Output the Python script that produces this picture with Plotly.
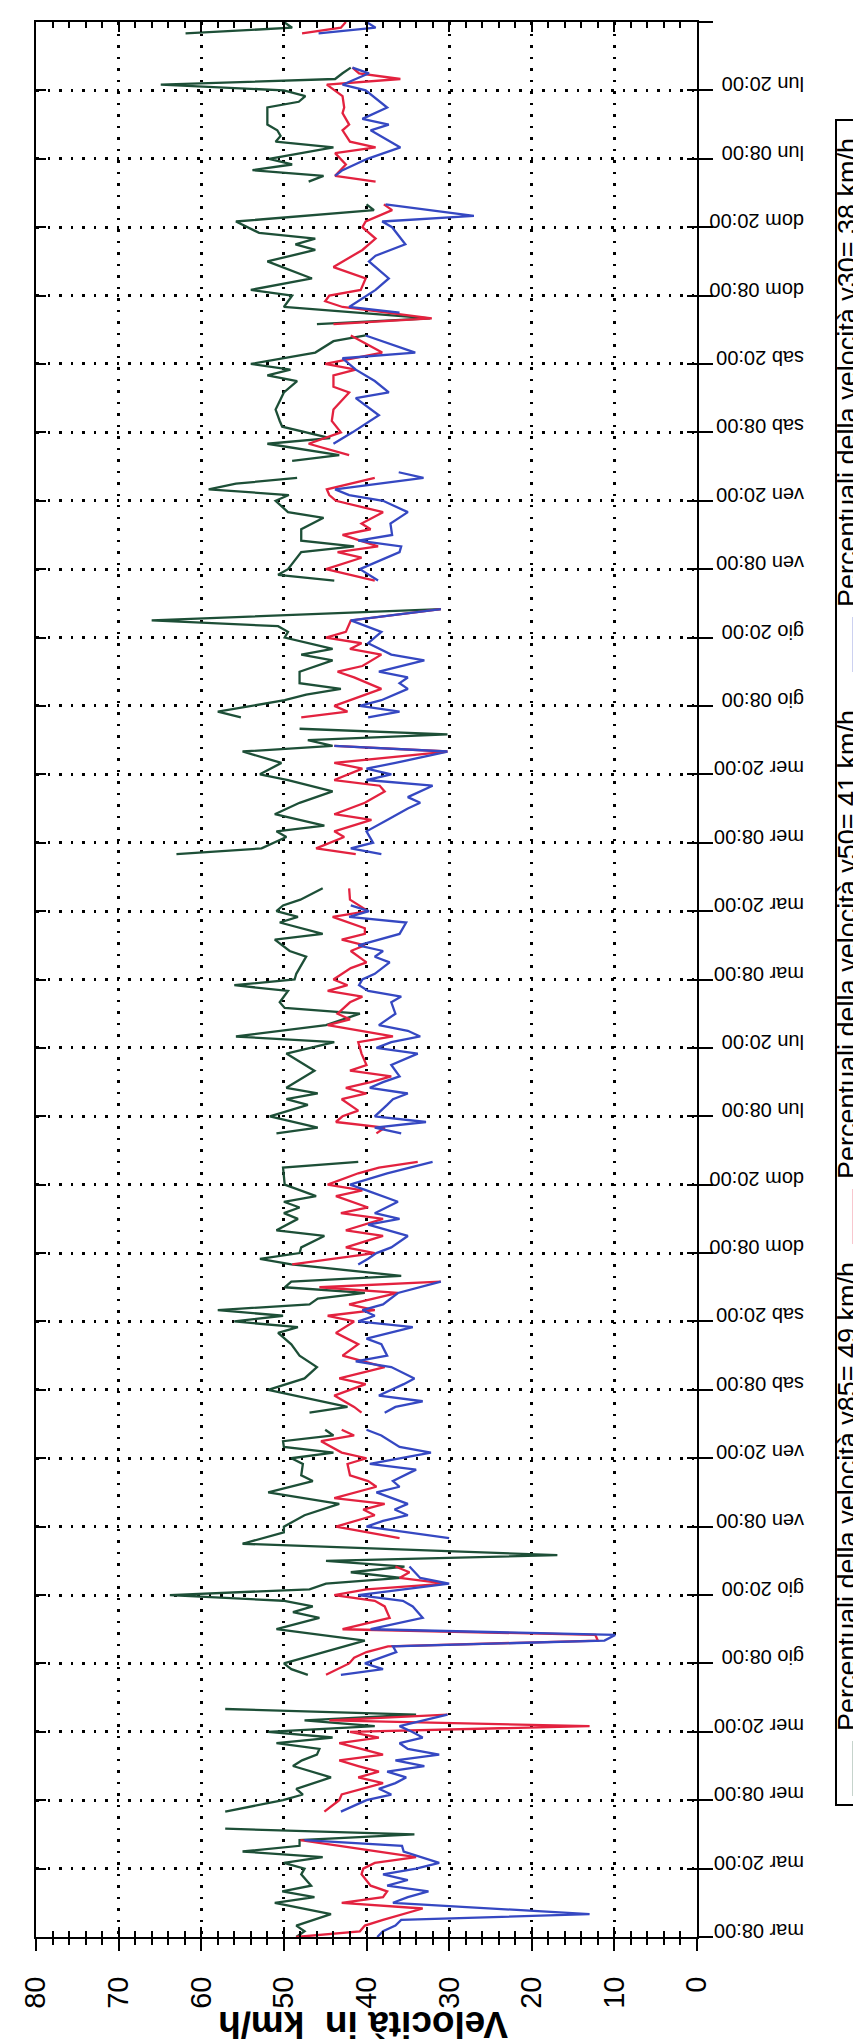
import plotly.graph_objects as go

# ---------------- data (hours from "mar 08:00", speed in km/h) ----------------
N = None
green_hours = [0,1,2,4,6,7,8,9,11,12,13,14,15,16,17,18,19,N,
               22,24,25,26,28,29,30,31,32,33,34,35,36,37,38,39,40,N,
               46,47,48,52,54,56,57,58,59,60,61,62,63,64,65,66,67,69,71,72,74,76,78,80,81,83,84,85,86,87,88,89,N,
               92,93,96,98,100,102,104,106,107,108,109,110,111,112,113,114,115,116,118,119,120,121,123,124,126,127,128,129,130,132,135,136,N,
               141,142,144,146,147,148,149,152,155,157,158,160,162,163,164,166,167,168,169,172,173,175,176,178,179,180,181,182,184,N,
               190,191,193,194,195,197,199,201,203,204,206,208,209,210,211,212,N,
               214,215,217,218,219,220,222,224,225,226,228,229,230,231,233,N,
               238,239,240,243,244,245,247,249,250,252,253,254,255,256,N,
               259,260,262,263,265,266,268,270,271,273,274,275,276,278,280,281,N,
               283,284,286,288,289,291,294,296,297,298,299,301,303,304,N,
               308,309,310,311,312,314,315,316,317,318,321,322,323,324,325,326,327,328,N,
               334,335,336]
green_vals = [48.5,47.5,48.5,44.3,51.1,46.3,50.2,46.7,47.9,47.5,50.0,45.3,55.0,48.1,48.1,34.2,57.1,N,
              57.1,50.1,47.7,48.5,44.3,46.5,48.9,47.8,46.0,45.7,50.9,44.1,51.9,39.0,47.5,34.0,57.1,N,
              47.1,49.1,50.0,40.2,50.9,45.7,48.9,46.5,50.1,63.8,46.9,44.9,35.8,41.9,35.4,44.9,16.9,55.0,50.0,50.0,47.5,43.3,51.9,46.5,47.9,47.7,49.1,44.0,50.0,50.1,44.0,45.0,N,
              46.9,42.3,51.9,47.5,46.0,48.1,49.1,50.7,48.3,56.0,50.1,58.0,46.9,45.9,40.2,49.9,49.1,35.8,49.1,52.9,48.1,47.9,45.1,50.9,48.3,50.0,48.1,50.0,46.1,49.9,50.1,41.0,N,
              50.9,45.9,51.7,47.1,49.7,45.9,49.7,46.3,49.7,43.9,55.8,44.9,40.8,49.9,50.5,49.5,56.0,48.7,48.5,47.3,49.3,51.1,45.3,50.5,48.3,50.9,50.1,48.0,45.3,N,
              63.0,52.7,49.7,50.9,45.1,51.1,48.1,44.1,49.5,52.9,50.3,55.0,44.1,47.1,30.2,48.1,N,
              55.2,58.0,49.9,47.3,43.1,48.1,48.1,44.1,47.9,44.1,49.9,49.5,50.7,66.0,31.0,N,
              43.9,50.7,49.5,47.9,41.5,47.9,47.9,45.2,49.5,51.0,49.4,59.1,55.8,48.4,N,
              49.0,43.3,52.0,44.4,50.2,50.5,51.0,50.3,50.0,48.4,52.0,49.2,54.0,46.2,44.0,40.1,N,
              46.0,32.3,50.0,49.0,54.0,46.6,52.0,46.2,48.6,46.2,53.0,55.8,39.1,40.0,N,
              47.0,45.2,53.8,49.0,51.8,44.0,51.0,50.4,50.8,52.0,52.0,48.2,47.4,50.0,64.9,43.8,42.9,41.9,N,
              61.9,49.0,50.0]

red_hours = [0,1,2,3,5,6,7,8,9,11,12,13,14,17,N,
             22,24,25,26,27,28,29,30,31,32,33,34,35,36,37,38,39,N,
             46,48,49,50,51,52,53,54,56,58,59,60,61,62,63,64,65,N,
             70,72,74,75,76,77,79,80,81,83,84,85,87,88,89,N,
             92,93,95,97,98,100,102,104,106,108,109,110,111,113,114,115,N,
             118,120,121,123,124,126,127,128,130,131,132,134,135,136,N,
             141,142,143,144,145,147,148,149,150,151,152,153,155,157,158,160,161,162,164,165,166,167,168,170,171,173,174,175,176,177,179,180,182,184,N,
             190,191,193,194,196,197,199,200,201,202,203,205,206,208,209,N,
             214,215,216,217,219,221,222,223,225,226,227,228,229,231,233,N,
             238,240,242,243,244,246,247,248,250,252,253,254,256,N,
             260,262,264,266,268,271,272,274,275,276,278,281,N,
             283,284,286,287,288,289,291,293,296,298,300,301,303,304,N,
             308,309,311,313,314,315,317,318,320,321,323,325,326,327,328,N,
             334,335,336]
red_vals = [48.5,40.8,40.2,38.0,33.2,43.0,38.0,37.5,39.5,40.6,40.4,39.0,34.0,48.0,N,
            45.1,43.3,43.0,40.5,38.0,41.0,38.5,41.0,43.3,38.0,40.5,43.3,38.5,42.0,13.0,44.5,30.2,N,
            44.9,42.1,41.5,40.0,37.4,12.0,12.3,42.9,37.2,37.8,39.0,43.9,40.0,30.4,36.0,34.8,36.5,N,
            36.0,43.7,39.0,40.4,37.8,43.9,38.8,39.8,42.0,42.3,40.0,43.0,45.5,41.5,43.0,N,
            40.6,41.5,43.9,40.1,43.3,37.8,42.9,41.0,43.7,41.5,44.7,39.0,42.1,36.2,45.7,31.0,N,
            49.0,39.0,42.5,38.0,42.5,38.0,43.1,39.8,43.7,40.5,44.7,41.0,38.5,33.8,N,
            38.8,37.8,43.7,42.9,41.0,43.0,40.0,42.5,39.5,37.0,42.0,40.0,40.6,41.0,36.8,44.7,42.0,43.5,42.0,40.5,44.7,42.3,44.0,41.9,40.0,41.9,40.2,43.0,40.2,40.2,44.1,39.8,42.0,42.1,N,
            41.3,46.1,42.7,43.9,39.4,43.9,40.2,39.0,37.8,38.4,43.9,40.5,43.9,30.2,43.9,N,
            47.9,42.3,43.9,42.0,38.2,41.5,43.5,40.5,38.2,42.0,40.6,44.9,42.5,41.9,31.0,N,
            39.0,44.9,40.6,43.5,38.6,42.9,39.5,40.6,38.0,43.7,44.5,44.8,39.0,N,
            42.1,47.0,43.1,44.2,44.0,42.1,44.0,44.0,41.3,45.0,38.1,41.9,N,
            44.0,32.1,42.9,45.0,44.5,40.7,40.1,44.0,40.5,38.9,40.5,40.1,36.9,37.9,N,
            38.9,43.8,42.5,43.8,38.9,42.0,42.9,42.1,42.9,42.7,42.9,44.8,35.9,40.9,41.7,N,
            47.8,43.1,42.5]

blue_hours = [0,1,2,3,4,6,7,8,9,10,11,12,13,14,15,16,17,N,
              22,24,25,26,27,28,29,30,31,32,33,34,35,36,37,38,39,N,
              46,47,48,50,51,52,53,54,56,58,59,60,62,63,65,N,
              70,72,73,74,75,76,78,79,80,82,83,85,86,88,89,N,
              92,93,94,95,97,98,100,101,102,104,105,107,108,109,110,111,113,115,N,
              118,119,120,121,123,125,126,127,129,130,131,132,134,136,N,
              141,142,143,144,146,147,148,149,150,151,153,155,156,157,158,159,160,162,164,165,166,167,168,169,171,172,173,174,176,178,179,180,181,N,
              190,191,192,194,196,198,199,200,202,203,204,205,206,208,209,N,
              214,215,216,217,219,220,221,222,224,225,227,229,231,233,N,
              238,240,243,244,245,246,248,250,252,253,254,256,257,N,
              262,264,267,270,271,273,275,277,278,281,N,
              285,286,289,291,294,295,297,300,301,302,304,N,
              309,310,312,314,317,318,319,321,324,325,327,328,N,
              334,335,336]
blue_vals = [38.7,38.0,36.5,35.8,13.0,36.8,35.0,32.5,37.5,35.0,38.0,34.0,31.2,33.5,35.5,35.7,47.5,N,
             43.1,40.0,37.0,38.5,36.5,35.2,37.5,33.0,36.5,31.2,35.0,36.0,33.2,34.5,36.0,33.0,30.2,N,
             43.1,38.0,40.2,36.4,36.8,11.2,9.9,39.5,33.2,34.4,35.6,41.0,30.0,33.5,34.8,N,
             30.0,40.0,38.0,35.0,36.6,35.0,38.8,36.0,36.8,34.0,39.6,32.2,36.0,38.2,40.0,N,
             37.8,36.5,33.2,38.5,35.5,34.2,37.0,41.3,37.5,38.2,40.0,34.4,41.0,39.0,40.5,38.0,36.2,31.0,N,
             41.0,39.8,38.8,37.0,35.0,39.8,36.0,39.0,36.2,38.0,40.0,42.0,37.5,32.0,N,
             35.8,39.0,32.8,39.0,37.5,36.8,35.0,39.6,38.0,36.0,37.0,33.8,38.8,37.0,33.5,35.0,38.5,36.5,37.0,35.8,39.8,40.9,40.5,39.0,37.2,39.0,38.0,41.0,36.0,35.2,42.1,39.7,41.9,N,
             38.2,41.9,39.2,40.0,37.5,35.0,33.5,35.0,32.0,40.0,37.0,40.0,36.5,30.2,43.9,N,
             39.8,36.0,40.8,38.2,35.0,36.0,35.0,38.5,33.0,37.0,39.8,38.2,41.9,31.0,N,
             38.6,40.8,36.0,35.8,41.0,36.9,37.1,35.0,38.0,42.1,43.8,33.1,36.1,N,
             44.0,41.7,38.5,41.3,37.3,39.0,41.3,42.9,34.1,40.1,N,
             36.0,42.1,38.9,37.3,39.7,38.9,35.3,36.9,38.1,27.0,37.7,N,
             43.8,42.9,39.9,35.9,39.5,37.3,40.5,37.5,40.1,42.9,39.7,41.7,N,
             45.8,38.9,40.0]

day_labels = ["mar 08:00", "mar 20:00", "mer 08:00", "mer 20:00", "gio 08:00", "gio 20:00",
              "ven 08:00", "ven 20:00", "sab 08:00", "sab 20:00", "dom 08:00", "dom 20:00",
              "lun 08:00", "lun 20:00"]
time_ticktext = day_labels * 2 + ["mar 08:00"]
time_tickvals = [12 * i for i in range(len(time_ticktext))]
speed_tickvals = [0, 10, 20, 30, 40, 50, 60, 70, 80]

series_names = ["Percentuali della velocità v85= 49 km/h",
                "Percentuali della velocità v50= 41 km/h",
                "Percentuali della velocità v30= 38 km/h"]
series_colors = ["#1d4f37", "#e3223f", "#3548c2"]
axis_title = "Velocità in\u00a0 km/h"

# ---------------- figure ----------------
W, H = 861, 2044
ML, MR, MT, MB = 28, 172, 14, 115
PW, PH = W - ML - MR, H - MT - MB
FONT = "Liberation Sans, Arial, sans-serif"


def px_x(px):
    return (px - ML) / PW


def px_y(py):
    return (H - MB - py) / PH


fig = go.Figure()
for hrs, vals, col in [(green_hours, green_vals, series_colors[0]),
                       (red_hours, red_vals, series_colors[1]),
                       (blue_hours, blue_vals, series_colors[2])]:
    fig.add_trace(go.Scatter(x=vals, y=hrs, mode="lines", connectgaps=False,
                             line=dict(color=col, width=2.3), showlegend=False,
                             hoverinfo="skip"))
fig.add_trace(go.Scatter(x=[None], y=[None], xaxis="x2", yaxis="y2",
                         showlegend=False, hoverinfo="skip"))

dots = "2.5px,9px"
fig.update_layout(
    width=W, height=H,
    margin=dict(l=ML, r=MR, t=MT, b=MB, pad=0),
    paper_bgcolor="white", plot_bgcolor="white",
    font=dict(family=FONT, color="black"),
    showlegend=False,
    xaxis=dict(range=[80, 0], tickvals=speed_tickvals, tickangle=-90,
               ticks="outside", ticklen=12, tickwidth=2, tickcolor="black",
               minor=dict(dtick=2, ticks="outside", ticklen=6, tickwidth=1.5,
                          tickcolor="black", showgrid=False),
               showgrid=True, gridcolor="black", gridwidth=2.5, griddash=dots,
               showline=True, linecolor="black", linewidth=2, zeroline=False,
               tickfont=dict(size=29, family=FONT, color="black"),
               ticklabelstandoff=14, fixedrange=True),
    xaxis2=dict(range=[80, 0], overlaying="x", side="top", anchor="y",
                tickvals=speed_tickvals, ticks="inside", ticklen=10, tickwidth=2,
                tickcolor="black",
                minor=dict(dtick=2, ticks="inside", ticklen=6, tickwidth=1.5,
                           tickcolor="black", showgrid=False),
                mirror="ticks", showline=True, linecolor="black", linewidth=2,
                showticklabels=False, showgrid=False, zeroline=False),
    yaxis=dict(range=[0, 336], side="right", tickvals=time_tickvals,
               ticktext=time_ticktext, tickangle=180,
               ticks="outside", ticklen=14, tickwidth=2, tickcolor="black",
               showgrid=True, gridcolor="black", gridwidth=2.5, griddash=dots,
               showline=True, linecolor="black", linewidth=2, zeroline=False,
               tickfont=dict(size=20, family=FONT, color="black"),
               ticklabelstandoff=87),
    yaxis2=dict(range=[0, 336], overlaying="y", side="left", anchor="x",
                tickvals=time_tickvals, ticks="inside", ticklen=10, tickwidth=2,
                tickcolor="black", mirror="ticks", showline=True,
                linecolor="black", linewidth=2, showticklabels=False,
                showgrid=False, zeroline=False),
)

# axis title (upside-down, as on the rotated page)
fig.add_annotation(text="<b>" + axis_title + "</b>", xref="paper", yref="paper",
                   x=px_x(355), y=px_y(2017), showarrow=False, textangle=180,
                   xanchor="center", yanchor="middle",
                   font=dict(size=37, family=FONT, color="black"))

# legend drawn rotated, as on the page
fig.add_shape(type="rect", xref="paper", yref="paper",
              x0=px_x(828), x1=px_x(875), y0=px_y(1797), y1=px_y(112),
              line=dict(color="black", width=2), fillcolor="rgba(0,0,0,0)")
legend_base = [1788, 1236, 664]
for name, col, b in zip(series_names, series_colors, legend_base):
    fig.add_shape(type="line", xref="paper", yref="paper",
                  x0=px_x(846), x1=px_x(846), y0=px_y(b), y1=px_y(b - 55),
                  line=dict(color=col, width=2.5))
    fig.add_annotation(text=name, xref="paper", yref="paper",
                       x=px_x(840), y=px_y(b - 65 - 234), showarrow=False,
                       textangle=-90, xanchor="center", yanchor="middle",
                       font=dict(size=27, family=FONT, color="black"))

fig.write_html("out.html")
